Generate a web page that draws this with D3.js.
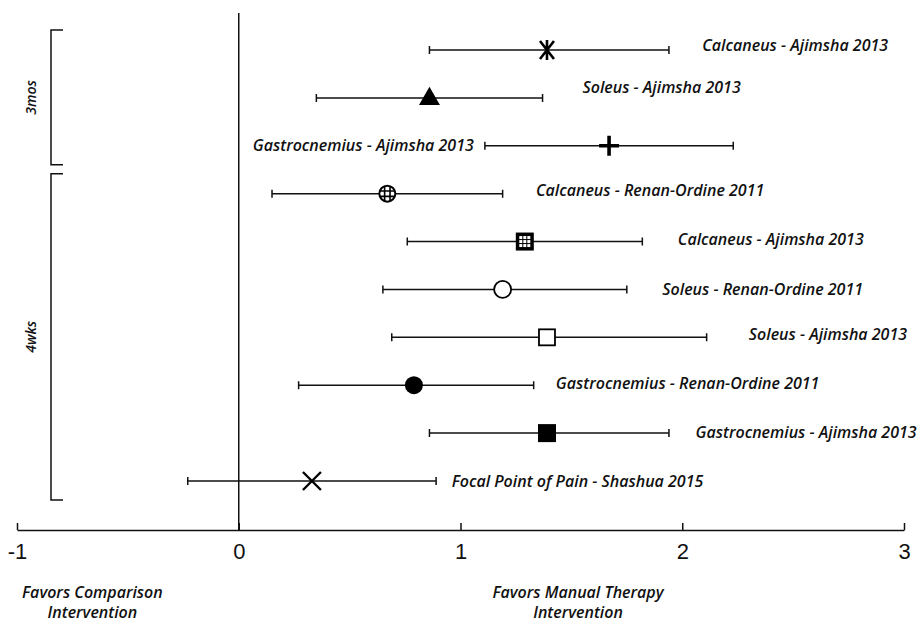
<!DOCTYPE html>
<html>
<head>
<meta charset="utf-8">
<script src="https://cdn.jsdelivr.net/npm/d3@7"></script>
<style>
  body { margin: 0; background: #fff; }
  .lbl { font-family: "Open Sans", sans-serif; font-style: italic; font-weight: 600; font-size: 16px; fill: #111; }
  .tick text { font-family: "Liberation Sans Narrow", "Liberation Sans", sans-serif; font-size: 22px; fill: #111; }
</style>
</head>
<body>
<svg id="forest" width="919" height="622"></svg>
<script>
// data
var studies = ["Calcaneus - Ajimsha 2013", "Soleus - Ajimsha 2013", "Gastrocnemius - Ajimsha 2013",
  "Calcaneus  - Renan-Ordine 2011", "Calcaneus - Ajimsha 2013", "Soleus - Renan-Ordine 2011",
  "Soleus - Ajimsha 2013", "Gastrocnemius - Renan-Ordine 2011", "Gastrocnemius - Ajimsha 2013",
  "Focal Point of Pain - Shashua 2015"];
var effect = [1.39, 0.86, 1.67, 0.67, 1.29, 1.19, 1.39, 0.79, 1.39, 0.33];
var lower = [0.86, 0.35, 1.11, 0.15, 0.76, 0.65, 0.69, 0.27, 0.86, -0.23];
var upper = [1.94, 1.37, 2.23, 1.19, 1.82, 1.75, 2.11, 1.33, 1.94, 0.89];
var markers = ["asterisk", "triangle", "plus", "gridCircle", "gridSquare", "openCircle", "openSquare", "circle", "square", "times"];
var xTicks = [-1, 0, 1, 2, 3];
var groups = [{ name: "3mos", from: 0, to: 2 }, { name: "4wks", from: 3, to: 9 }];

// label placement (axis units) and small vertical nudges
var labelAt = [2.09, 1.55, 1.06, 1.34, 1.98, 1.91, 2.30, 1.43, 2.06, 0.96];
var labelAnchor = ["start", "start", "end", "start", "start", "start", "start", "start", "start", "start"];
var labelDy = [-5, -10, 0, -3, -2, 0, -3, -2, -1, 0];

var svg = d3.select("#forest");

var x = d3.scaleLinear().domain([-1, 3]).range([17, 904]);
var y = d3.scalePoint().domain(d3.range(studies.length)).range([50, 481]);

var axisY = 530;

// x axis, ticks pointing up
var xAxis = d3.axisBottom(x).tickValues(xTicks).tickSizeInner(-7).tickSizeOuter(0).tickPadding(13)
  .tickFormat(d => String(d));
var gx = svg.append("g")
  .attr("transform", "translate(0," + axisY + ")")
  .call(xAxis);
gx.selectAll("path, line").attr("stroke", "#111").attr("stroke-width", 1.5);

// zero line
svg.append("line")
  .attr("x1", x(0)).attr("x2", x(0))
  .attr("y1", 13).attr("y2", axisY)
  .attr("stroke", "#111").attr("stroke-width", 1.5);

// group brackets
var bx = 51;
groups.forEach(function (g) {
  var top = y(g.from) - 20, bot = y(g.to) + 19;
  svg.append("path")
    .attr("d", "M" + (bx + 12) + "," + top + "H" + bx + "V" + bot + "H" + (bx + 12))
    .attr("fill", "none").attr("stroke", "#111").attr("stroke-width", 1.5);
  svg.append("text")
    .attr("class", "lbl")
    .attr("font-weight", 400)
    .style("font-size", "14px")
    .attr("transform", "translate(36," + ((top + bot) / 2) + ") rotate(-90)")
    .attr("text-anchor", "middle")
    .text(g.name);
});

// error bars
var rows = svg.selectAll(".row")
  .data(d3.range(studies.length))
  .enter().append("g")
  .attr("class", "row");

rows.append("line")
  .attr("x1", i => x(lower[i])).attr("x2", i => x(upper[i]))
  .attr("y1", i => y(i)).attr("y2", i => y(i))
  .attr("stroke", "#111").attr("stroke-width", 1.5);

rows.append("path")
  .attr("d", i => "M" + x(lower[i]) + "," + (y(i) - 4) + "v8M" + x(upper[i]) + "," + (y(i) - 4) + "v8")
  .attr("stroke", "#111").attr("stroke-width", 1.5);

// markers
function drawMarker(g, type) {
  var k = "#000";
  if (type === "asterisk") {
    g.append("path").attr("d", "M-7,-9L7,9M-7,9L7,-9M0,-10V10")
      .attr("stroke", k).attr("stroke-width", 2.6);
  } else if (type === "triangle") {
    g.append("path").attr("d", d3.symbol(d3.symbolTriangle, 190)()).attr("transform", "translate(0,1)").attr("fill", k);
  } else if (type === "plus") {
    g.append("path").attr("d", "M-10,0H10M0,-10V10").attr("stroke", k).attr("stroke-width", 3.6);
  } else if (type === "gridCircle") {
    g.append("circle").attr("r", 8).attr("fill", "#fff").attr("stroke", k).attr("stroke-width", 2);
    g.append("path").attr("d", "M-2.7,-7.5V7.5M2.7,-7.5V7.5M-7.5,-2.7H7.5M-7.5,2.7H7.5")
      .attr("stroke", k).attr("stroke-width", 1.6);
  } else if (type === "gridSquare") {
    g.append("rect").attr("x", -9).attr("y", -9).attr("width", 18).attr("height", 18).attr("fill", k);
    var cells = [-5.5, -1.5, 2.5];
    cells.forEach(function (cx) {
      cells.forEach(function (cy) {
        g.append("rect").attr("x", cx).attr("y", cy).attr("width", 3).attr("height", 3).attr("fill", "#fff");
      });
    });
  } else if (type === "openCircle") {
    g.append("circle").attr("r", 8.5).attr("fill", "#fff").attr("stroke", k).attr("stroke-width", 1.8);
  } else if (type === "openSquare") {
    g.append("rect").attr("x", -8).attr("y", -8).attr("width", 16).attr("height", 16)
      .attr("fill", "#fff").attr("stroke", k).attr("stroke-width", 1.8);
  } else if (type === "circle") {
    g.append("circle").attr("r", 9).attr("fill", k);
  } else if (type === "square") {
    g.append("rect").attr("x", -9).attr("y", -9).attr("width", 18).attr("height", 18).attr("fill", k);
  } else if (type === "times") {
    g.append("path").attr("d", "M-9,-9L9,9M-9,9L9,-9").attr("stroke", k).attr("stroke-width", 2.4);
  }
}

rows.append("g")
  .attr("transform", i => "translate(" + x(effect[i]) + "," + y(i) + ")")
  .each(function (i) { drawMarker(d3.select(this), markers[i]); });

// study labels
rows.append("text")
  .attr("class", "lbl")
  .attr("x", i => x(labelAt[i]))
  .attr("y", i => y(i) + labelDy[i])
  .attr("dy", "0.35em")
  .attr("text-anchor", i => labelAnchor[i])
  .text(i => studies[i]);

// direction labels
var dir = [
  { cx: x(-0.66), lines: ["Favors Comparison", "Intervention"] },
  { cx: x(1.53), lines: ["Favors Manual Therapy", "Intervention"] }
];
dir.forEach(function (d) {
  var t = svg.append("text").attr("class", "lbl").attr("text-anchor", "middle");
  d.lines.forEach(function (s, j) {
    t.append("tspan").attr("x", d.cx).attr("y", 598 + j * 20).text(s);
  });
});
</script>
</body>
</html>
